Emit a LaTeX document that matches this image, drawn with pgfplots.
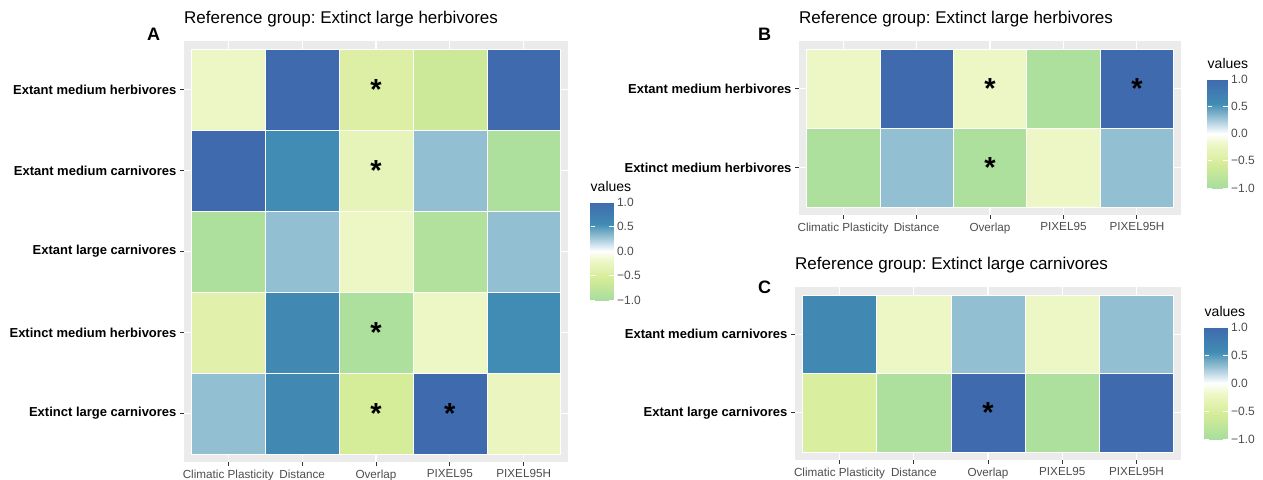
\documentclass[border=0pt]{standalone}
\usepackage{fontspec}
\setmainfont{Liberation Sans}
\usepackage{pgfplots}
\pgfplotsset{compat=1.18}
\definecolor{ggbg}{RGB}{235,235,235}
\definecolor{grey30}{RGB}{77,77,77}
\definecolor{grey20}{RGB}{51,51,51}
\pgfplotsset{
  colormap={ggmap}{rgb255(0pt)=(168,221,158); rgb255(45pt)=(213,236,152); rgb255(60pt)=(225,241,172); rgb255(80pt)=(237,247,198); rgb255(100pt)=(255,255,255); rgb255(115pt)=(200,222,234); rgb255(130pt)=(147,191,210); rgb255(155pt)=(65,140,180); rgb255(200pt)=(63,106,174)},
  heat/.style={
    scale only axis, enlargelimits=false,
    xmin=-0.6, xmax=4.6, ymin=-0.6,
    axis background/.style={fill=ggbg},
    axis line style={draw=none},
    grid=major, major grid style={white, line width=1.1pt},
    xtick={0,...,4},
    xticklabels={Climatic Plasticity, Distance, Overlap, PIXEL95, PIXEL95H},
    xtick pos=left, ytick pos=left,
    tick align=outside, major tick length=4pt,
    tick style={grey20, line width=0.9pt},
    xticklabel style={font=\fontsize{11.7}{12}\selectfont, text=grey30},
    yticklabel style={font=\bfseries\fontsize{13}{14}\selectfont, text=black},
    title style={at={(0,1)}, anchor=base west, yshift=12pt, inner sep=0pt, font=\fontsize{17}{18}\selectfont\frenchspacing},
    colormap name=ggmap,
    point meta min=-1, point meta max=1,
    colorbar,
  },
  mycb/.style n args={4}{
    /pgfplots/colorbar/width=#3,
    colorbar style={
    at={(parent axis.north east)}, anchor=north west,
    xshift=#1, yshift=#2, scale only axis, width=#3, height=#4,
    axis line style={draw=none},
    ytick={-1,-0.5,0,0.5,1},
    yticklabels={−1.0,−0.5,0.0,0.5,1.0},
    ytick pos=both, yticklabel pos=right,
    tick align=inside, major tick length=4.5pt,
    tick style={white, line width=0.8pt},
    yticklabel style={font=\fontsize{12}{12}\selectfont, text=grey30},
    title={values},
    title style={at={(0,1)}, anchor=base west, yshift=5pt, inner sep=0pt, font=\fontsize{14}{14}\selectfont, text=black},
  }},
  tiles/.style={matrix plot*, mesh/cols=5, point meta=explicit, draw=white, line width=0.5pt},
  stars/.style={draw=none, point meta=y, nodes near coords={\fontsize{29}{29}\selectfont\bfseries *},
    every node near coord/.append style={anchor=center, inner sep=0pt, text=black}},
}
\begin{document}
\frenchspacing
\begin{tikzpicture}[x=1pt,y=1pt]
\useasboundingbox (0pt,0pt) rectangle (1263pt,-479pt);
% Panel A
\begin{axis}[heat, at={(184pt,-41pt)}, anchor=north west, width=384pt, height=421pt,
  ymax=4.6, ytick={0,...,4},
  yticklabels={Extinct large carnivores, Extinct medium herbivores, Extant large carnivores, Extant medium carnivores, Extant medium herbivores},
  title={Reference group: Extinct large herbivores},
  mycb={14pt}{-161pt}{23pt}{98pt}]
\addplot[tiles] table[meta=v] {
x y v
0 0 0.3
1 0 0.6
2 0 -0.55
3 0 1.0
4 0 -0.25
0 1 -0.4
1 1 0.6
2 1 -0.95
3 1 -0.2
4 1 0.55
0 2 -0.95
1 2 0.3
2 2 -0.2
3 2 -0.9
4 2 0.3
0 3 1.0
1 3 0.55
2 3 -0.3
3 3 0.3
4 3 -0.95
0 4 -0.2
1 4 1.0
2 4 -0.45
3 4 -0.65
4 4 1.0
};
\addplot[stars] coordinates {(2,4) (2,3) (2,1) (2,0) (3,0)};
\end{axis}
% Panel B
\begin{axis}[heat, at={(799pt,-41pt)}, anchor=north west, width=382pt, height=174pt,
  ymax=1.6, ytick={0,1},
  yticklabels={Extinct medium herbivores, Extant medium herbivores},
  title={Reference group: Extinct large herbivores},
  mycb={18pt}{-38pt}{20pt}{109pt}]
\addplot[tiles] table[meta=v] {
x y v
0 0 -0.95
1 0 0.3
2 0 -0.95
3 0 -0.2
4 0 0.3
0 1 -0.2
1 1 1.0
2 1 -0.2
3 1 -0.95
4 1 1.0
};
\addplot[stars] coordinates {(2,1) (4,1) (2,0)};
\end{axis}
% Panel C
\begin{axis}[heat, at={(795pt,-287pt)}, anchor=north west, width=386pt, height=173pt,
  ymax=1.6, ytick={0,1},
  yticklabels={Extant large carnivores, Extant medium carnivores},
  title={Reference group: Extinct large carnivores},
  mycb={15pt}{-40pt}{23pt}{112pt}]
\addplot[tiles] table[meta=v] {
x y v
0 0 -0.5
1 0 -0.95
2 0 1.0
3 0 -0.95
4 0 1.0
0 1 0.6
1 1 -0.2
2 1 0.3
3 1 -0.2
4 1 0.3
};
\addplot[stars] coordinates {(2,0)};
\end{axis}
\node[font=\bfseries\fontsize{18}{18}\selectfont, anchor=base west, inner sep=0pt] at (147pt,-40pt) {A};
\node[font=\bfseries\fontsize{18}{18}\selectfont, anchor=base west, inner sep=0pt] at (758pt,-40pt) {B};
\node[font=\bfseries\fontsize{18}{18}\selectfont, anchor=base west, inner sep=0pt] at (758pt,-293pt) {C};
\end{tikzpicture}
\end{document}
